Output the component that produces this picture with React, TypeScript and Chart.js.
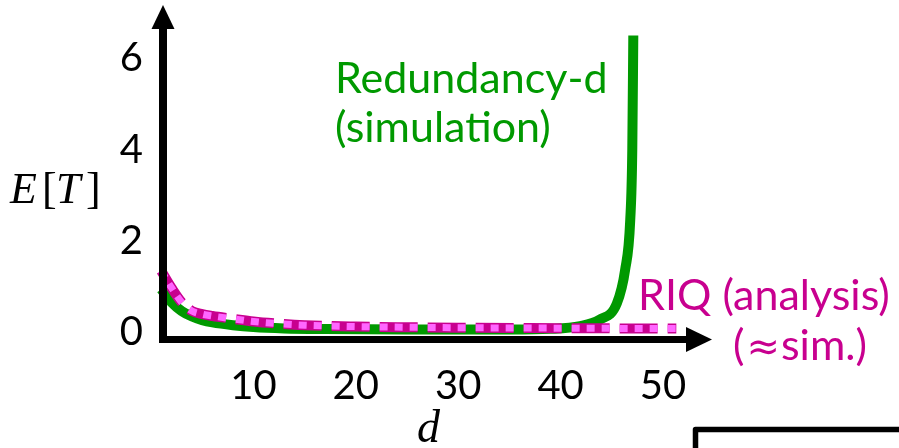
import { useEffect, useRef } from 'react';
import { Chart, registerables } from 'chart.js';

Chart.register(...registerables);

// Redundancy-d (simulation)
const redundancyD = [1, 2, 3, 4, 5, 6, 8, 10, 13, 17, 25, 35, 39, 41.9, 43.8, 45.5, 46.3, 46.8, 47.0, 47.1];
const redundancyET = [0.95, 0.66, 0.47, 0.35, 0.27, 0.22, 0.16, 0.12, 0.09, 0.075, 0.065, 0.065, 0.08, 0.14, 0.28, 0.64, 1.37, 2.46, 4.0, 6.5];

// RIQ (analysis)
const riqD = [1, 2, 3, 4, 5, 6, 8, 10, 12, 15, 20, 25, 30, 40, 51.3];
const riqET = [1.35, 0.98, 0.66, 0.47, 0.4, 0.36, 0.3, 0.24, 0.2, 0.16, 0.13, 0.115, 0.105, 0.095, 0.085];

const xTickValues = [10, 20, 30, 40, 50];
const yTickValues = [0, 2, 4, 6];

const GREEN = '#009900';
const MAGENTA = '#C8008F';
const PINK = '#FF66FF';
const SANS = 'Lato, "Open Sans", sans-serif';
const SERIF = '"Liberation Serif", "DejaVu Serif", serif';

const decorPlugin = {
  id: 'decor',
  afterDatasetsDraw(chart: any) {
    const ctx = chart.ctx as CanvasRenderingContext2D;
    const a = chart.chartArea;
    ctx.save();
    ctx.fillStyle = '#000';
    const yAxisX = a.left + 12;
    const xAxisY = a.bottom + 7;
    // y axis shaft + arrow
    ctx.fillRect(yAxisX - 4, 28, 8, xAxisY + 3.5 - 28);
    ctx.beginPath();
    ctx.moveTo(yAxisX - 11.5, 29);
    ctx.lineTo(yAxisX + 11.5, 29);
    ctx.lineTo(yAxisX, 5);
    ctx.closePath();
    ctx.fill();
    // x axis shaft + arrow
    ctx.fillRect(yAxisX - 4, xAxisY - 3.5, 688 - (yAxisX - 4), 7);
    ctx.beginPath();
    ctx.moveTo(686, xAxisY - 12.5);
    ctx.lineTo(686, xAxisY + 12.5);
    ctx.lineTo(712, xAxisY);
    ctx.closePath();
    ctx.fill();
    ctx.restore();
  },
  afterDraw(chart: any) {
    const ctx = chart.ctx as CanvasRenderingContext2D;
    ctx.save();
    ctx.textBaseline = 'alphabetic';
    ctx.textAlign = 'left';
    // annotations
    ctx.fillStyle = GREEN;
    ctx.font = `43px ${SANS}`;
    ctx.fillText('Redundancy-d', 335, 93);
    ctx.fillText('(simulation)', 335, 142);
    ctx.fillStyle = MAGENTA;
    ctx.fillText('RIQ (analysis)', 638, 310);
    let x = 733;
    ctx.fillText('(', x, 360);
    x += ctx.measureText('(').width + 2;
    ctx.font = `40px "DejaVu Sans", sans-serif`;
    ctx.fillText('≈', x, 360);
    x += ctx.measureText('≈').width + 1;
    ctx.font = `43px ${SANS}`;
    ctx.fillText('sim.)', x, 360);
    // axis titles
    ctx.fillStyle = '#000';
    ctx.font = `italic 44px ${SERIF}`;
    ctx.fillText('E', 10, 203);
    ctx.fillText('T', 56, 203);
    ctx.font = `44px ${SERIF}`;
    ctx.fillText('[', 42, 203);
    ctx.fillText(']', 86, 203);
    ctx.font = `italic 46px ${SERIF}`;
    ctx.fillText('d', 417, 442);
    // box corner at bottom right
    ctx.strokeStyle = '#000';
    ctx.lineWidth = 5.5;
    ctx.lineJoin = 'round';
    ctx.beginPath();
    ctx.moveTo(695.5, 460);
    ctx.lineTo(695.5, 429.5);
    ctx.lineTo(910, 429.5);
    ctx.stroke();
    ctx.restore();
  },
};

export default function App() {
  const ref = useRef<HTMLCanvasElement | null>(null);
  useEffect(() => {
    document.body.style.margin = '0';
    const canvas = ref.current;
    if (!canvas) return;
    const chart = new Chart(canvas, {
      type: 'line',
      data: {
        datasets: [
          {
            label: 'Redundancy-d (simulation)',
            data: redundancyD.map((d, i) => ({ x: d, y: redundancyET[i] })),
            borderColor: GREEN,
            borderWidth: 10,
            pointRadius: 0,
            cubicInterpolationMode: 'monotone',
            fill: false,
            clip: false as any,
            order: 3,
          },
          {
            label: 'RIQ (analysis)',
            data: riqD.map((d, i) => ({ x: d, y: riqET[i] })),
            borderColor: MAGENTA,
            borderWidth: 10,
            borderDash: [38, 10],
            pointRadius: 0,
            cubicInterpolationMode: 'monotone',
            fill: false,
            clip: false as any,
            order: 2,
          },
          {
            label: 'RIQ dots',
            data: riqD.map((d, i) => ({ x: d, y: riqET[i] })),
            borderColor: PINK,
            borderWidth: 7,
            borderDash: [8, 7, 8, 7, 8, 10],
            pointRadius: 0,
            cubicInterpolationMode: 'monotone',
            fill: false,
            clip: false as any,
            order: 1,
          },
        ],
      },
      options: {
        responsive: false,
        animation: false,
        layout: { padding: { top: 12.6, right: 184.8, bottom: 0, left: 0 } },
        plugins: { legend: { display: false }, tooltip: { enabled: false } },
        scales: {
          x: {
            type: 'linear',
            min: 0,
            max: 55,
            grid: { display: false, drawTicks: false },
            border: { display: false },
            afterBuildTicks: (s: any) => {
              s.ticks = xTickValues.map((v) => ({ value: v }));
            },
            afterFit: (s: any) => {
              s.height = 115.5;
              s.paddingLeft = 0;
              s.paddingRight = 0;
            },
            ticks: {
              font: { family: SANS, size: 40 },
              color: '#000',
              padding: 30,
              maxRotation: 0,
              autoSkip: false,
            },
          },
          y: {
            type: 'linear',
            min: 0,
            max: 7,
            grid: { display: false, drawTicks: false },
            border: { display: false },
            afterBuildTicks: (s: any) => {
              s.ticks = yTickValues.map((v) => ({ value: v }));
            },
            afterFit: (s: any) => {
              s.width = 151;
              s.paddingTop = 0;
              s.paddingBottom = 0;
            },
            ticks: {
              font: { family: SANS, size: 40 },
              color: '#000',
              padding: 8,
              autoSkip: false,
            },
          },
        },
      },
      plugins: [decorPlugin],
    });
    return () => chart.destroy();
  }, []);
  return (
    <div style={{ width: 899, height: 448, background: '#fff' }}>
      <canvas ref={ref} width={899} height={448} style={{ display: 'block' }} />
    </div>
  );
}
